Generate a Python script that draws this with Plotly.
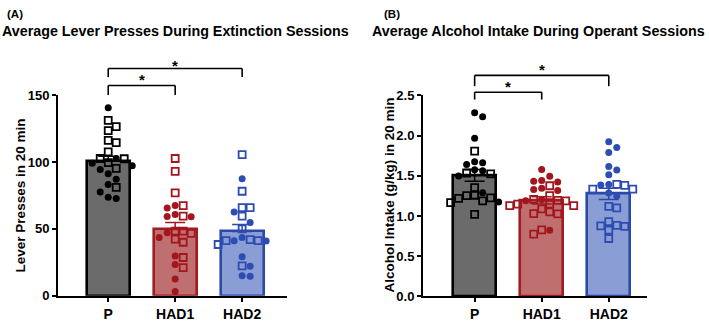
import plotly.graph_objects as go

W, H = 709, 326

categories = ["P", "HAD1", "HAD2"]

# Panel A: lever presses
A_P_circles = [140.5, 102.6, 99.0, 97.1, 94.3, 91.2, 87.1, 83.1, 77.6, 72.6, 73.6]
A_P_squares = [131.0, 126.4, 123.4, 116.2, 114.5, 107.6, 102.6, 102.4, 99.5, 95.2, 81.0]
A_HAD1_circles = [67.4, 65.5, 60.7, 59.3, 59.0, 47.1, 43.6, 29.8, 23.4, 12.6, 3.1]
A_HAD1_squares = [102.6, 92.9, 76.9, 67.4, 59.5, 46.7, 48.3, 48.3, 40.0, 42.4, 28.6, 21.0]
A_HAD2_circles = [87.4, 62.6, 54.8, 43.6, 41.2, 41.0, 29.1, 22.0, 14.6, 15.0]
A_HAD2_squares = [105.5, 78.1, 65.9, 65.9, 59.5, 50.0, 42.0, 41.2, 41.2, 38.3, 22.4]
A_means = [100.5, 49.5, 48.0]
A_sem = [3.8, 5.3, 5.2]
A_ticks = [0, 50, 100, 150]

# Panel B: alcohol intake
B_P_circles = [2.286, 2.235, 1.966, 1.674, 1.662, 1.642, 1.574, 1.562, 1.496, 1.289, 1.175]
B_P_squares = [1.808, 1.535, 1.523, 1.353, 1.258, 1.254, 1.226, 1.218, 1.187, 1.167, 1.021]
B_HAD1_circles = [1.578, 1.494, 1.44, 1.432, 1.423, 1.345, 1.33, 1.317, 1.206, 1.19, 0.822]
B_HAD1_squares = [1.376, 1.253, 1.206, 1.194, 1.187, 1.148, 1.148, 1.13, 1.13, 1.089, 1.05,
                  1.03, 1.025, 0.826, 0.775]
B_HAD2_circles = [1.923, 1.852, 1.789, 1.615, 1.571, 1.512, 1.393, 1.385, 1.286, 1.25]
B_HAD2_squares = [1.393, 1.381, 1.333, 1.333, 1.12, 1.10, 0.93, 0.883, 0.878, 0.87, 0.823, 0.72]
B_means = [1.505, 1.195, 1.275]
B_sem = [0.073, 0.045, 0.07]
B_ticks = [0.0, 0.5, 1.0, 1.5, 2.0, 2.5]

# significance comparisons (group index pairs)
comparisons = [(0, 1, "*"), (0, 2, "*")]

FILL = ["#6b6b6b", "#c06f71", "#8a9dd5"]
EDGE = ["#000000", "#a01c22", "#2b4aa6"]
DOT = ["#000000", "#a3161d", "#2d4db3"]

FONT = "Liberation Sans, Arial, Helvetica, sans-serif"


def swarm(circles, squares, px_per_unit, step=8.0, diam=7.8):
    pts = [(v, "c") for v in circles] + [(v, "s") for v in squares]
    order = sorted(range(len(pts)), key=lambda i: -pts[i][0])
    placed = []
    offs = [0.0] * len(pts)
    cands = [0.0]
    for i in range(1, 12):
        cands += [i * step, -i * step]
    for i in order:
        y = pts[i][0] * px_per_unit
        for c in cands:
            if all((c - px) ** 2 + (y - py) ** 2 >= diam ** 2 for px, py in placed):
                break
        placed.append((c, y))
        offs[i] = c
    return pts, offs


fig = go.Figure()

panels = [
    dict(xa="x", ya="y", xr=[-0.75, 2.67], yr=[0, 150], xpx=(58, 287), ypx=(302.7, 92.3),
         means=A_means, sem=A_sem, up_only=True,
         groups=[(A_P_circles, A_P_squares), (A_HAD1_circles, A_HAD1_squares),
                 (A_HAD2_circles, A_HAD2_squares)],
         ticks=A_ticks, fmt="d",
         br=[(157.1, 150.0), (169.8, 163.4)], star=[73, 58]),
    dict(xa="x2", ya="y2", xr=[-0.77, 2.57], yr=[0, 2.5], xpx=(423, 647), ypx=(303.3, 92.7),
         means=B_means, sem=B_sem, up_only=False,
         groups=[(B_P_circles, B_P_squares), (B_HAD1_circles, B_HAD1_squares),
                 (B_HAD2_circles, B_HAD2_squares)],
         ticks=B_ticks, fmt=".1f",
         br=[(2.54, 2.449), (2.749, 2.615)], star=[80, 62]),
]

shapes = []
annotations = []

for p in panels:
    px_per_cat = (p["xpx"][1] - p["xpx"][0]) / (p["xr"][1] - p["xr"][0])
    px_per_unit = (p["ypx"][0] - p["ypx"][1]) / (p["yr"][1] - p["yr"][0])
    # bars
    for g in range(3):
        fig.add_trace(go.Bar(
            x=[g], y=[p["means"][g]], width=0.64, xaxis=p["xa"], yaxis=p["ya"],
            marker=dict(color=FILL[g], line=dict(color=EDGE[g], width=2.6)),
            error_y=dict(type="data", array=[p["sem"][g]],
                         arrayminus=[0 if p["up_only"] else p["sem"][g]],
                         symmetric=False, color=EDGE[g], thickness=1.5, width=10),
            showlegend=False, hoverinfo="skip"))
    # points
    for g, (circ, sq) in enumerate(p["groups"]):
        pts, offs = swarm(circ, sq, px_per_unit)
        for sym, key in (("circle", "c"), ("square-open", "s")):
            xs = [g + offs[i] / px_per_cat for i in range(len(pts)) if pts[i][1] == key]
            ys = [pts[i][0] for i in range(len(pts)) if pts[i][1] == key]
            fig.add_trace(go.Scatter(
                x=xs, y=ys, mode="markers", xaxis=p["xa"], yaxis=p["ya"],
                marker=dict(symbol=sym, size=7, color=DOT[g],
                            line=dict(color=DOT[g], width=1.8 if key == "s" else 0)),
                showlegend=False, hoverinfo="skip", cliponaxis=False))
    # brackets
    ybot = p["ypx"][0]

    def to_paper(v, ybot=ybot, ppu=px_per_unit):
        return (H - (ybot - v * ppu)) / H

    for (a, b, txt), (top, drop), sy in zip(comparisons, p["br"], p["star"]):
        yt, yd = to_paper(top), to_paper(drop)
        line = dict(color="black", width=1.6)
        shapes.append(dict(type="line", xref=p["xa"], yref="paper", x0=a, x1=b, y0=yt, y1=yt, line=line))
        shapes.append(dict(type="line", xref=p["xa"], yref="paper", x0=a, x1=a, y0=yt, y1=yd, line=line))
        shapes.append(dict(type="line", xref=p["xa"], yref="paper", x0=b, x1=b, y0=yt, y1=yd, line=line))
        annotations.append(dict(text="<b>*</b>", xref=p["xa"], yref="paper", x=(a + b) / 2,
                                y=1 - (sy + 3) / H, showarrow=False, yanchor="middle",
                                font=dict(size=15, color="black", family=FONT)))

axis_common = dict(showline=True, linecolor="black", linewidth=2, ticks="outside",
                   ticklen=4, tickwidth=2, tickcolor="black", showgrid=False, zeroline=False,
                   fixedrange=True)

pa, pb = panels
fig.update_layout(
    width=W, height=H, autosize=False, margin=dict(l=0, r=0, t=0, b=0),
    paper_bgcolor="white", plot_bgcolor="white", bargap=0,
    font=dict(family=FONT, color="black"),
    xaxis=dict(domain=[pa["xpx"][0] / W, pa["xpx"][1] / W], range=pa["xr"], anchor="y",
               tickvals=[0, 1, 2], ticktext=categories,
               tickfont=dict(size=14, weight="bold", family=FONT), **axis_common),
    yaxis=dict(domain=[(H - pa["ypx"][0]) / H, (H - pa["ypx"][1]) / H], range=pa["yr"],
               anchor="x", tickvals=A_ticks, tickformat=pa["fmt"],
               tickfont=dict(size=13, weight="bold", family=FONT), **axis_common),
    xaxis2=dict(domain=[pb["xpx"][0] / W, pb["xpx"][1] / W], range=pb["xr"], anchor="y2",
                tickvals=[0, 1, 2], ticktext=categories,
                tickfont=dict(size=14, weight="bold", family=FONT), **axis_common),
    yaxis2=dict(domain=[(H - pb["ypx"][0]) / H, (H - pb["ypx"][1]) / H], range=pb["yr"],
                anchor="x2", tickvals=B_ticks, tickformat=pb["fmt"],
                tickfont=dict(size=13, weight="bold", family=FONT), **axis_common),
    shapes=shapes,
)

text_ann = [
    dict(text="<b>(A)</b>", x=5 / W, y=1 - 7.5 / H, size=11.5),
    dict(text="<b>Average Lever Presses During Extinction Sessions</b>", x=0 / W, y=1 - 25 / H, size=14.3),
    dict(text="<b>(B)</b>", x=382 / W, y=1 - 7.5 / H, size=11.5),
    dict(text="<b>Average Alcohol Intake During Operant Sessions</b>", x=370 / W, y=1 - 25 / H, size=14.3),
]
for t in text_ann:
    annotations.append(dict(text=t["text"], xref="paper", yref="paper", x=t["x"], y=t["y"],
                            xanchor="left", yanchor="middle", showarrow=False,
                            font=dict(size=t["size"], color="black", family=FONT)))

annotations.append(dict(text="<b>Lever Presses in 20 min</b>", xref="paper", yref="paper",
                        x=20 / W, y=1 - 197.5 / H, textangle=-90, showarrow=False,
                        xanchor="center", yanchor="middle",
                        font=dict(size=13.5, color="black", family=FONT)))
annotations.append(dict(text="<b>Alcohol Intake (g/kg) in 20 min</b>", xref="paper", yref="paper",
                        x=389 / W, y=1 - 197.5 / H, textangle=-90, showarrow=False,
                        xanchor="center", yanchor="middle",
                        font=dict(size=13.5, color="black", family=FONT)))

fig.update_layout(annotations=annotations)

post = (
    "document.documentElement.style.margin='0';document.documentElement.style.padding='0';"
    "document.documentElement.style.overflow='hidden';"
    "document.body.style.margin='0';document.body.style.padding='0';"
    "document.body.style.overflow='hidden';"
    "var d=document.getElementById('{plot_id}');"
    "d.style.position='fixed';d.style.left='0px';d.style.top='0px';"
)
fig.write_html("out.html", config={"displayModeBar": False, "responsive": False},
               post_script=post)
